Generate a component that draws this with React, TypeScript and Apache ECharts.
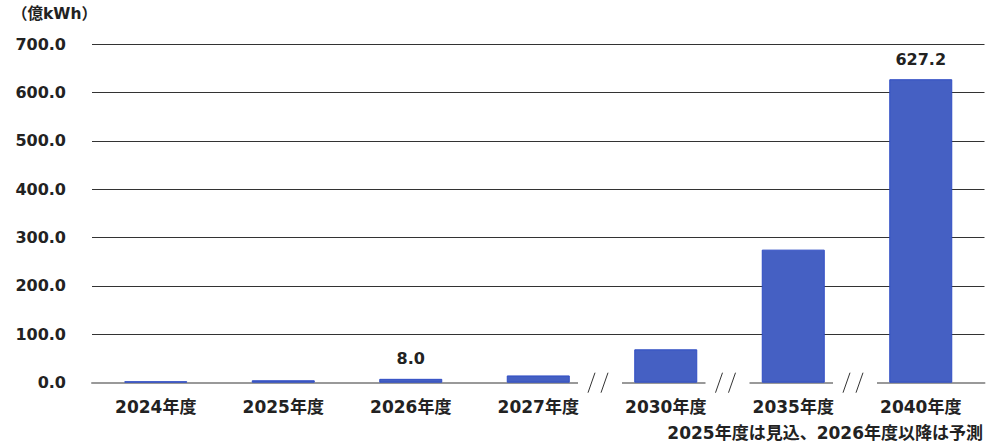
import React, { useEffect, useRef } from "react";
import * as echarts from "echarts";

const categories = ["2024年度", "2025年度", "2026年度", "2027年度", "2030年度", "2035年度", "2040年度"];
const values = [3.0, 5.0, 8.0, 15.0, 69.0, 275.0, 627.2];
const labeledCategories = ["2026年度", "2040年度"];
const breakAfter = ["2027年度", "2030年度", "2035年度"];
const unitLabel = "（億kWh）";
const footnote = "2025年度は見込、2026年度以降は予測";

const FONT = '"DejaVu Sans", "Noto Sans CJK JP", sans-serif';

export default function App() {
  const ref = useRef<HTMLDivElement>(null);
  useEffect(() => {
    if (!ref.current) return;
    const chart = echarts.init(ref.current, null, { renderer: "svg" });
    chart.setOption({
      animation: false,
      backgroundColor: "#ffffff",
      textStyle: { fontFamily: FONT },
      grid: { left: 92, right: 15.5, top: 44, bottom: 62.3 },
      graphic: [
        {
          type: "text",
          left: 12,
          top: 6,
          style: { text: unitLabel, font: `bold 15.5px ${FONT}`, fill: "#222" },
        },
        {
          type: "text",
          right: 17,
          top: 424,
          style: { text: footnote, font: `bold 17px ${FONT}`, fill: "#222" },
        },
      ],
      xAxis: {
        type: "category",
        data: categories,
        boundaryGap: true,
        axisTick: { show: false },
        axisLine: { show: true, lineStyle: { color: "#999", width: 2 } },
        axisLabel: { color: "#222", fontWeight: "bold", fontSize: 17, margin: 16, fontFamily: FONT },
      },
      yAxis: {
        type: "value",
        min: 0,
        max: 700,
        interval: 100,
        axisLine: { show: false },
        axisTick: { show: false },
        splitLine: { lineStyle: { color: "#333", width: 1 } },
        axisLabel: {
          color: "#222",
          fontWeight: "bold",
          fontSize: 16,
          margin: 26,
          fontFamily: FONT,
          formatter: (v: number) => v.toFixed(1),
        },
      },
      series: [
        {
          type: "bar",
          barWidth: 63,
          itemStyle: { color: "#4560C3", borderColor: "#2F4CC4", borderWidth: 1 },
          data: values.map((v, i) => ({
            value: v,
            label: {
              show: labeledCategories.includes(categories[i]),
              position: "top",
              distance: 12,
              color: "#222",
              fontWeight: "bold",
              fontSize: 16,
              fontFamily: FONT,
              formatter: (p: any) => Number(p.value).toFixed(1),
            },
          })),
        },
        {
          type: "custom",
          silent: true,
          clip: false,
          z: 5,
          data: breakAfter.map((c) => [categories.indexOf(c)]),
          renderItem: (params: any, api: any) => {
            const idx = api.value(0);
            const p = api.coord([idx, 0]);
            const band = api.size([1, 0])[0];
            const x = p[0] + band / 2 - 2;
            const y = p[1];
            return {
              type: "group",
              children: [
                { type: "rect", shape: { x: x - 22, y: y - 3, width: 44, height: 6 }, style: { fill: "#ffffff" } },
                { type: "line", shape: { x1: x - 12, y1: y + 10, x2: x - 5, y2: y - 10 }, style: { stroke: "#333", lineWidth: 1 } },
                { type: "line", shape: { x1: x + 1, y1: y + 10, x2: x + 8, y2: y - 10 }, style: { stroke: "#333", lineWidth: 1 } },
              ],
            };
          },
        },
      ],
    });
    return () => chart.dispose();
  }, []);
  return <div ref={ref} style={{ position: "fixed", left: 0, top: 0, width: 1000, height: 445 }} />;
}
